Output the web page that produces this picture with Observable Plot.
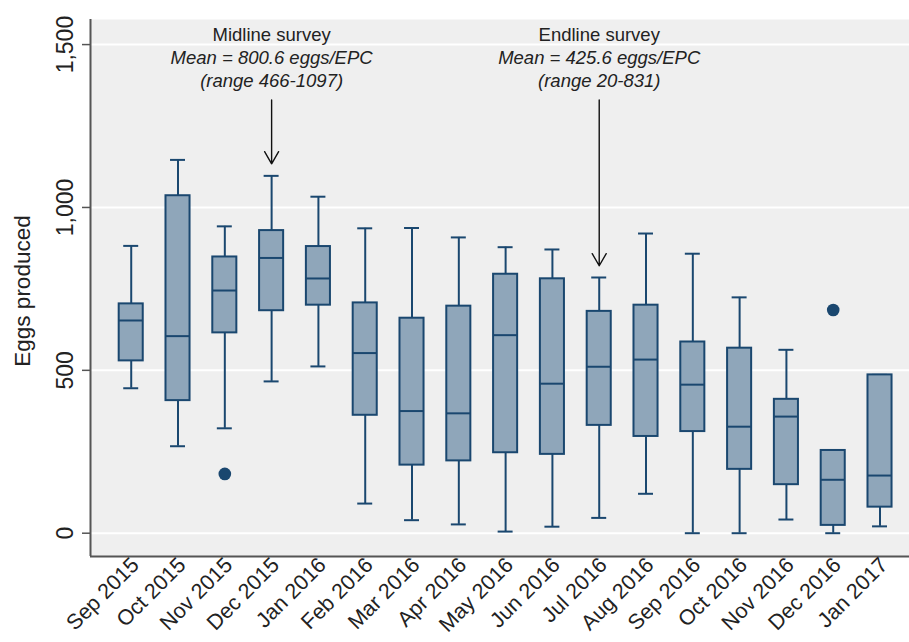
<!DOCTYPE html>
<html>
<head>
<meta charset="utf-8">
<script src="https://cdn.jsdelivr.net/npm/d3@7"></script>
<script src="https://cdn.jsdelivr.net/npm/@observablehq/plot@0.6"></script>
<style>
  html, body { margin: 0; padding: 0; background: #fff; }
  #chart { width: 909px; height: 642px; }
</style>
</head>
<body>
<div id="chart"></div>
<script>
// ---- Data ----
const months = ["Sep 2015","Oct 2015","Nov 2015","Dec 2015","Jan 2016","Feb 2016","Mar 2016","Apr 2016","May 2016","Jun 2016","Jul 2016","Aug 2016","Sep 2016","Oct 2016","Nov 2016","Dec 2016","Jan 2017"];
const whiskerLow  = [445, 267, 322, 466, 512,  91,  40,  27,   5,  20,  47, 121,   0,   0,  42,   0,  21];
const q1          = [529, 407, 615, 683, 700, 362, 209, 222, 247, 242, 331, 297, 312, 196, 149,  24,  80];
const median      = [653, 605, 745, 845, 782, 553, 375, 368, 608, 459, 511, 533, 456, 327, 358, 164, 177];
const q3          = [704,1036, 848, 929, 880, 707, 660, 697, 795, 781, 681, 700, 587, 568, 411, 254, 486];
const whiskerHigh = [882,1146, 942,1097,1033, 936, 937, 908, 878, 871, 785, 920, 858, 724, 563, 254, 486];
const outlierMonths = ["Nov 2015", "Dec 2016"];
const outlierValues = [182, 685];
const yTicks = [0, 500, 1000, 1500];
const annoMonths = ["Dec 2015", "Jul 2016"];
const annoTitles = ["Midline survey", "Endline survey"];
const annoMeans  = ["Mean = 800.6 eggs/EPC", "Mean = 425.6 eggs/EPC"];
const annoRanges = ["(range 466-1097)", "(range 20-831)"];
const arrowTipValues = [1134, 821];

// ---- Build tables ----
const boxes = months.map((m, i) => ({i, m, lo: whiskerLow[i], q1: q1[i], med: median[i], q3: q3[i], hi: whiskerHigh[i]}));
const outliers = outlierMonths.map((m, k) => ({i: months.indexOf(m), v: outlierValues[k]}));
const annos = annoMonths.map((m, k) => ({i: months.indexOf(m), title: annoTitles[k], mean: annoMeans[k], range: annoRanges[k], tip: arrowTipValues[k]}));

const xDomain = [-0.87, 16.63];
const yDomain = [-71.5, 1577];
const boxHalf = 0.257, capHalf = 0.16;
const navy = "#1a476f", boxFill = "#8fa6ba", axisCol = "#555555", textCol = "#222222";
const titleY = 1530, meanY = 1458, rangeY = 1387, arrowTopY = 1330;

const plot = Plot.plot({
  width: 909,
  height: 642,
  marginLeft: 90,
  marginRight: 0,
  marginTop: 19,
  marginBottom: 86,
  style: {fontFamily: "'Liberation Sans', Arial, Helvetica, sans-serif", background: "#fff", color: textCol},
  x: {type: "linear", domain: xDomain},
  y: {domain: yDomain},
  marks: [
    Plot.frame({fill: "#efefef", stroke: null}),
    Plot.ruleY(yTicks, {stroke: "#ffffff", strokeWidth: 2}),
    // whiskers
    Plot.ruleX(boxes, {x: "i", y1: "q3", y2: "hi", stroke: navy, strokeWidth: 2}),
    Plot.ruleX(boxes, {x: "i", y1: "q1", y2: "lo", stroke: navy, strokeWidth: 2}),
    Plot.ruleY(boxes, {y: "hi", x1: d => d.i - capHalf, x2: d => d.i + capHalf, stroke: navy, strokeWidth: 2}),
    Plot.ruleY(boxes, {y: "lo", x1: d => d.i - capHalf, x2: d => d.i + capHalf, stroke: navy, strokeWidth: 2}),
    // boxes
    Plot.rect(boxes, {x1: d => d.i - boxHalf, x2: d => d.i + boxHalf, y1: "q1", y2: "q3", fill: boxFill, stroke: navy, strokeWidth: 2}),
    Plot.ruleY(boxes, {y: "med", x1: d => d.i - boxHalf, x2: d => d.i + boxHalf, stroke: navy, strokeWidth: 2}),
    // outliers
    Plot.dot(outliers, {x: "i", y: "v", r: 6.3, fill: navy, stroke: null}),
    // axis lines
    Plot.ruleX([xDomain[0]], {stroke: axisCol, strokeWidth: 2}),
    Plot.ruleY([yDomain[0]], {stroke: axisCol, strokeWidth: 2}),
    // axes
    Plot.axisY(yTicks, {tickSize: 8, tickPadding: 10, tickRotate: -90, tickFormat: d3.format(","), fontSize: 23, stroke: axisCol, strokeWidth: 1.5, label: null}),
    Plot.axisX(d3.range(months.length), {tickFormat: i => months[i], tickRotate: -45, tickSize: 0, tickPadding: 5, dx: 4, fontSize: 21.5, label: null}),
    Plot.text(["Eggs produced"], {frameAnchor: "left", textAnchor: "middle", dx: -68, dy: 3, rotate: -90, fontSize: 22.5, fill: textCol}),
    // annotations
    Plot.text(annos, {x: "i", y: () => titleY, text: "title", fontSize: 18.5, fill: textCol}),
    Plot.text(annos, {x: "i", y: () => meanY, text: "mean", fontSize: 18.5, fontStyle: "italic", fill: textCol}),
    Plot.text(annos, {x: "i", y: () => rangeY, text: "range", fontSize: 18.5, fontStyle: "italic", fill: textCol}),
    Plot.arrow(annos, {x1: "i", x2: "i", y1: () => arrowTopY, y2: "tip", stroke: "#111", strokeWidth: 1.4, headLength: 15, headAngle: 60})
  ]
});
document.getElementById("chart").appendChild(plot);
</script>
</body>
</html>
